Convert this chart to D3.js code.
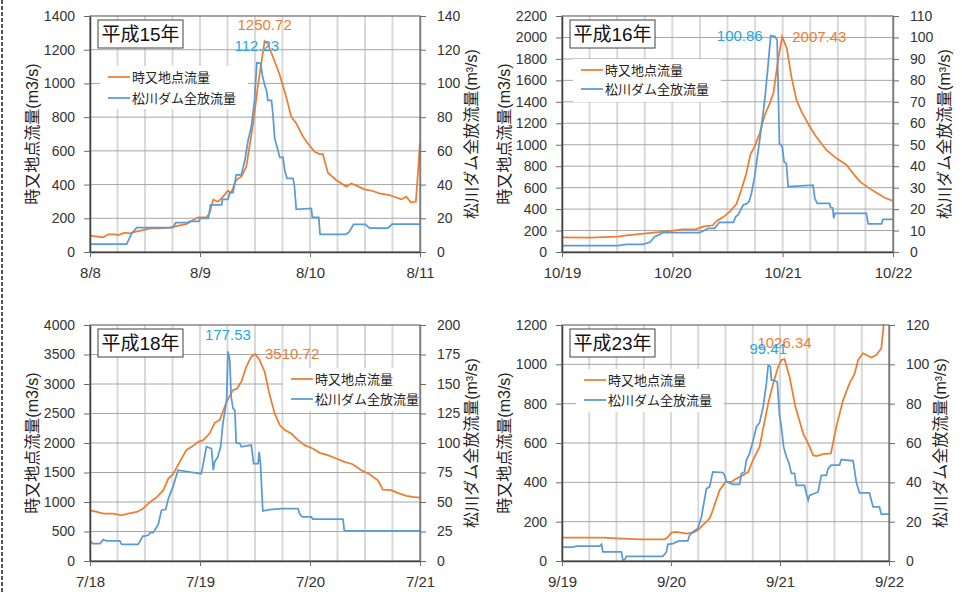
<!DOCTYPE html>
<html>
<head>
<meta charset="utf-8">
<script src="https://cdn.jsdelivr.net/npm/d3@7"></script>
<style>
  body { margin: 0; background: #fff; }
  svg { display: block; font-family: "Liberation Sans", "Noto Sans CJK JP", sans-serif; }
</style>
</head>
<body>
<div id="chart"></div>
<script>
// hours from the first date (0..72), value
// 平成15年
const h15Dates = ["8/8", "8/9", "8/10", "8/11"];
const h15Flow = [[0,97],[2.9,87],[4,105],[5.4,105],[6.2,100],[7.6,115],[8.7,110],[10.2,122],[11.6,130],[13.1,140],[15.2,140],[17.4,145],[19.6,158],[21,165],[22.5,190],[23.6,205],[25.4,205],[26.1,230],[26.9,312],[27.9,298],[28.7,318],[30.1,364],[30.8,352],[31.9,427],[33,447],[34.1,506],[35.6,763],[36.7,1000],[38.1,1250.72],[38.8,1237],[39.9,1158],[41.4,1050],[42.8,921],[43.9,803],[45,763],[46.5,684],[47.5,645],[49,595],[50.1,581],[50.8,581],[51.9,470],[53.7,427],[55.9,388],[57,407],[58.4,391],[59.9,372],[61.7,362],[63.1,348],[65.3,338],[67.9,312],[69,328],[70,295],[71.1,298],[72,645]];
const h15Dam = [[0,4.7],[8,4.7],[9.1,11],[10.2,14.4],[18.1,14.4],[18.7,17.4],[21.4,17.4],[21.6,18.2],[23.8,18.2],[24,20],[25.8,20],[26.3,27.9],[28.7,27.9],[28.9,31.2],[30.1,31.2],[30.5,35.2],[31.2,35.2],[31.9,45.7],[33,45.7],[33.8,54.6],[34.5,66.4],[35.2,74.3],[35.9,90],[36.4,112.23],[37.2,112],[37.6,105],[38.1,99],[38.5,96],[38.8,90],[39.6,90],[39.9,82],[40.3,67.4],[40.8,62.5],[41.4,56.1],[42.1,56.1],[42.5,48.2],[43,43.7],[44.3,43.7],[44.6,39.1],[45,25.3],[48.3,25.9],[48.5,20.6],[49.9,20.6],[50.2,10.5],[55.9,10.5],[56.6,12],[57.5,16.4],[60.1,16.4],[61,14.2],[65,14.2],[65.9,16.6],[72,16.6]];
const h15Peaks = [[38.1,1250.72],[36.4,112.23]];

// 平成16年
const h16Dates = ["10/19", "10/20", "10/21", "10/22"];
const h16Flow = [[0,137],[6,134],[12.2,143],[14,155],[16.2,165],[18.3,174],[20.5,183],[24.1,199],[26.3,211],[29.2,214],[30.7,236],[32.8,249],[33.7,292],[35,323],[36.5,376],[37.9,444],[39,578],[40.1,733],[41,910],[41.9,982],[43,1106],[44.1,1277],[45.2,1386],[46,1485],[47,1790],[47.9,2007.43],[48.9,1898],[49.9,1634],[51,1417],[52.1,1308],[53.9,1168],[55.3,1075],[57.5,951],[59.7,873],[61.9,811],[63.3,733],[64.8,656],[66.9,593],[68.4,553],[70.2,506],[72,475]];
const h16Dam = [[0,3],[12.2,3],[14,3.6],[17.6,3.6],[19.1,4.5],[20.2,7.1],[22,9],[29.9,9],[30.7,9.8],[31.8,11],[33.2,11],[34.2,13.8],[37.3,13.8],[37.8,16.5],[38.3,17.2],[39.4,21.9],[40.1,22.4],[40.7,23.5],[41.2,27.3],[41.9,35.1],[43,52.2],[44.1,70.8],[44.8,86.4],[45.4,100.86],[46.3,100.4],[46.8,98.8],[47,78.6],[47.3,50.6],[47.9,49.1],[48.3,42.1],[48.8,41.3],[49.2,30.5],[54.6,31.2],[55,25],[55.5,22.7],[58.2,22.7],[58.4,20.8],[58.9,20.5],[59.1,15.7],[59.4,18],[66.2,18],[66.6,13.1],[69.5,13.1],[69.8,15.2],[72,15.2]];
const h16Peaks = [[47.9,2007.43],[45.4,100.86]];

// 平成18年
const h18Dates = ["7/18", "7/19", "7/20", "7/21"];
const h18Flow = [[0,860],[1.5,832],[2.9,803],[5.1,803],[6.9,775],[8.3,803],[10.2,832],[11.6,888],[13.1,1001],[14.5,1075],[16,1200],[17.1,1397],[18.1,1471],[19.6,1680],[21,1878],[22.5,1952],[23.6,2020],[24.7,2048],[26.1,2161],[27.2,2342],[28.3,2388],[29.8,2699],[31.2,2897],[32.1,2925],[33,3038],[34.1,3293],[35.2,3463],[36,3510.72],[37,3406],[38.1,3208],[39.2,2812],[40.3,2501],[41.4,2303],[42.5,2218],[43.9,2161],[45.4,2048],[46.8,1963],[48.6,1907],[50.1,1833],[51.9,1794],[53.7,1737],[55.5,1680],[57.3,1641],[59.2,1539],[61,1471],[62.8,1369],[63.9,1211],[65.7,1200],[67.1,1154],[69,1103],[70.4,1086],[72,1075]];
const h18Dam = [[0,17],[0.6,14.7],[2.2,14.7],[2.9,18.1],[3.6,17],[6.5,17],[6.9,14.1],[10.5,14.1],[11.5,20.9],[12.7,21.8],[13.1,24],[13.8,24],[14.2,26.6],[14.9,31.1],[15.6,43],[16.5,43.6],[17.1,52.9],[18.1,62.8],[19.2,77],[24,74.1],[24.3,74.1],[25.4,96.8],[26.5,95.3],[26.9,77],[27.2,84],[27.9,88.3],[28.5,96.8],[29,116.6],[29.8,136.4],[30.1,177.53],[30.5,170.3],[30.8,139.2],[31.2,129.3],[31.6,127.9],[31.9,100.1],[32.7,99.6],[33,96.8],[35.2,98.2],[35.7,82.6],[36.7,82.6],[36.9,92.5],[37.2,82.6],[37.7,42.4],[39.2,43.6],[41.7,44.4],[45.4,44.4],[45.7,40.2],[46.3,37.3],[48.3,37.3],[48.6,35.4],[55.2,35.4],[55.5,25.5],[72,25.5]];
const h18Peaks = [[36,3510.72],[30.1,177.53]];

// 平成23年
const h23Dates = ["9/19", "9/20", "9/21", "9/22"];
const h23Flow = [[0,119],[9,119],[13.4,114],[17.1,110],[22.6,110],[23.3,122],[24.1,144],[25.2,148],[27.4,139],[28.8,144],[29.9,156],[31,182],[32.5,216],[33.2,258],[34.7,360],[36,402],[37.3,402],[38.4,419],[39.9,436],[41,453],[42.1,516],[43.5,580],[44.3,674],[45.4,801],[46.5,903],[47.6,988],[48.3,1022],[49,1026.34],[50.1,937],[51.4,784],[53.1,648],[54.2,597],[55.3,538],[56,533],[57.5,543],[59.2,547],[60.4,682],[61.9,818],[63.3,903],[64.4,950],[65.2,1022],[66.3,1056],[68.1,1035],[69.2,1047],[70.3,1081],[71,1240]];
const h23Dam = [[0,7.1],[2.4,7.1],[3.2,7.6],[8.3,7.6],[8.7,8.5],[9,4.6],[13.1,4.6],[13.4,0.3],[13.8,0.7],[14.2,2.4],[22.2,2.4],[23,4.6],[23.3,8.5],[24.4,8.8],[25.2,9.7],[25.9,10.2],[27.7,10.2],[28.1,13.1],[28.8,14.8],[29.9,16.5],[30.7,22.4],[31.8,36.8],[32.5,37.7],[33.2,45.3],[35.4,45],[35.8,43.6],[36.2,40.2],[36.9,39.7],[37.6,39],[39.1,39],[39.5,44.5],[40.2,45.3],[40.6,51.3],[41.3,54.7],[42.1,61.4],[42.8,68.2],[43.5,70.3],[44.3,78.4],[45,90.3],[45.4,99.41],[45.9,98.8],[46.1,92],[46.5,92],[47.4,91.1],[47.9,74.2],[48.3,68.2],[48.8,58],[49.4,53],[50,49.6],[50.5,44.5],[51.2,44.5],[51.6,38.5],[53.4,38.5],[53.8,34.3],[54.2,30.9],[54.5,33.4],[55.6,34.3],[56.4,35.1],[57.1,43.6],[58.2,43.6],[58.6,47],[59.3,48.7],[61.1,48.7],[61.5,51.6],[64.1,50.9],[64.8,40.2],[65.5,34.6],[67.7,34.6],[68.1,30.9],[68.5,27.5],[69.9,27.5],[70.3,23.8],[72,23.8]];
const h23Peaks = [[49,1026.34],[45.4,99.41]];

const seriesNames = ["時又地点流量", "松川ダム全放流量"];
const leftTitle = "時又地点流量(m3/s)";
const rightTitle = "松川ダム全放流量(m³/s)";

const W = 962, H = 592;
const orange = "#ED7D31", blue = "#5B9BD5", blueLabel = "#1FA8E2";

const svg = d3.select("#chart").append("svg")
  .attr("width", W)
  .attr("height", H);

// dashed edge on the left
svg.append("line")
  .attr("x1", 2).attr("x2", 2).attr("y1", 0).attr("y2", H)
  .attr("stroke", "#555").attr("stroke-width", 2).attr("stroke-dasharray", "4,2");

const panels = [
  { title: "平成15年", dates: h15Dates, flow: h15Flow, dam: h15Dam, peaks: h15Peaks,
    leftMax: 1400, leftStep: 200, rightMax: 140, rightStep: 20,
    box: { left: 90, top: 16, right: 420, bottom: 252 },
    legend: { x: 18, y: 61, dy: 21 }, peakPos: ["above", "above"] },
  { title: "平成16年", dates: h16Dates, flow: h16Flow, dam: h16Dam, peaks: h16Peaks,
    leftMax: 2200, leftStep: 200, rightMax: 110, rightStep: 10,
    box: { left: 562, top: 16, right: 893, bottom: 252 },
    legend: { x: 19, y: 54, dy: 19 }, peakPos: ["right", "left"] },
  { title: "平成18年", dates: h18Dates, flow: h18Flow, dam: h18Dam, peaks: h18Peaks,
    leftMax: 4000, leftStep: 500, rightMax: 200, rightStep: 25,
    box: { left: 90, top: 325, right: 420, bottom: 561 },
    legend: { x: 201, y: 54, dy: 20 }, peakPos: ["right", "above"] },
  { title: "平成23年", dates: h23Dates, flow: h23Flow, dam: h23Dam, peaks: h23Peaks,
    leftMax: 1200, leftStep: 200, rightMax: 120, rightStep: 20,
    box: { left: 562, top: 325, right: 889, bottom: 561 },
    legend: { x: 22, y: 55, dy: 20 }, peakPos: ["above", "above"] }
];

panels.forEach((p, i) => {
  const b = p.box;
  const g = svg.append("g");

  const x = d3.scaleLinear().domain([0, 72]).range([b.left, b.right]);
  const yL = d3.scaleLinear().domain([0, p.leftMax]).range([b.bottom, b.top]);
  const yR = d3.scaleLinear().domain([0, p.rightMax]).range([b.bottom, b.top]);
  const leftTicks = d3.range(0, p.leftMax + 1, p.leftStep);
  const rightTicks = d3.range(0, p.rightMax + 1, p.rightStep);

  // grid: every 6 hours, every left tick
  g.selectAll(".vgrid")
    .data(d3.range(6, 72, 6))
    .enter().append("line")
    .attr("x1", d => x(d)).attr("x2", d => x(d))
    .attr("y1", b.top).attr("y2", b.bottom)
    .attr("stroke", "#d9d9d9").attr("stroke-width", 2);
  g.selectAll(".hgrid")
    .data(leftTicks.slice(1, -1))
    .enter().append("line")
    .attr("x1", b.left).attr("x2", b.right)
    .attr("y1", d => yL(d)).attr("y2", d => yL(d))
    .attr("stroke", "#a6a6a6").attr("stroke-width", 1);

  // legend background hides the grid
  g.append("rect")
    .attr("x", b.left + p.legend.x - 8)
    .attr("y", b.top + p.legend.y - 11)
    .attr("width", 148)
    .attr("height", 43)
    .attr("fill", "#fff");

  svg.append("clipPath").attr("id", "clip" + i)
    .append("rect")
    .attr("x", b.left).attr("y", b.top)
    .attr("width", b.right - b.left).attr("height", b.bottom - b.top);

  const lineL = d3.line().x(d => x(d[0])).y(d => yL(d[1]));
  const lineR = d3.line().x(d => x(d[0])).y(d => yR(d[1]));

  g.append("path")
    .datum(p.flow)
    .attr("clip-path", `url(#clip${i})`)
    .attr("fill", "none")
    .attr("stroke", orange)
    .attr("stroke-width", 1.75)
    .attr("d", lineL);
  g.append("path")
    .datum(p.dam)
    .attr("clip-path", `url(#clip${i})`)
    .attr("fill", "none")
    .attr("stroke", blue)
    .attr("stroke-width", 1.75)
    .attr("d", lineR);

  // plot frame
  g.append("rect")
    .attr("x", b.left).attr("y", b.top)
    .attr("width", b.right - b.left).attr("height", b.bottom - b.top)
    .attr("fill", "none").attr("stroke", "#6b6b6b").attr("stroke-width", 1.2);

  // axes
  const styleAxis = (a, size, col) => {
    a.selectAll(".tick line").attr("stroke", "#6b6b6b");
    a.selectAll(".tick text").attr("fill", "#333").style("font-size", size + "px");
    a.select(".domain").attr("stroke", col).attr("stroke-width", 1.5);
  };

  g.append("g")
    .attr("transform", `translate(${b.left},0)`)
    .call(d3.axisLeft(yL).tickValues(leftTicks).tickFormat(d3.format("d"))
      .tickSize(6).tickSizeOuter(0).tickPadding(9))
    .call(a => styleAxis(a, 14, "#404040"));

  g.append("g")
    .attr("transform", `translate(${b.right},0)`)
    .call(d3.axisRight(yR).tickValues(rightTicks).tickFormat(d3.format("d"))
      .tickSize(6).tickSizeOuter(0).tickPadding(11))
    .call(a => styleAxis(a, 14, "#7f7f7f"));

  g.append("g")
    .attr("transform", `translate(0,${b.bottom})`)
    .call(d3.axisBottom(x).tickValues([0, 24, 48, 72]).tickFormat((d, k) => p.dates[k])
      .tickSize(5).tickSizeOuter(0).tickPadding(10))
    .call(a => styleAxis(a, 15, "#404040"));

  // axis titles, both read bottom to top
  const midY = (b.top + b.bottom) / 2;
  g.append("text")
    .attr("transform", `translate(${b.left - 57.5},${midY}) rotate(-90)`)
    .attr("text-anchor", "middle")
    .attr("dominant-baseline", "central")
    .attr("fill", "#222")
    .style("font-size", "16px")
    .text(leftTitle);
  g.append("text")
    .attr("transform", `translate(${b.right + 51},${midY}) rotate(-90)`)
    .attr("text-anchor", "middle")
    .attr("dominant-baseline", "central")
    .attr("fill", "#222")
    .style("font-size", "16px")
    .text(rightTitle);

  // legend
  [orange, blue].forEach((c, k) => {
    const ly = b.top + p.legend.y + k * p.legend.dy;
    g.append("line")
      .attr("x1", b.left + p.legend.x).attr("x2", b.left + p.legend.x + 22)
      .attr("y1", ly).attr("y2", ly)
      .attr("stroke", c).attr("stroke-width", 1.75);
    g.append("text")
      .attr("x", b.left + p.legend.x + 24)
      .attr("y", ly)
      .attr("dominant-baseline", "central")
      .attr("fill", "#222")
      .style("font-size", "13px")
      .text(seriesNames[k]);
  });

  // year box
  g.append("rect")
    .attr("x", b.left + 8).attr("y", b.top + 4)
    .attr("width", 85).attr("height", 28)
    .attr("fill", "#fff").attr("stroke", "#404040").attr("stroke-width", 1);
  g.append("text")
    .attr("x", b.left + 8 + 42.5).attr("y", b.top + 18)
    .attr("text-anchor", "middle")
    .attr("dominant-baseline", "central")
    .attr("fill", "#111")
    .style("font-size", "19px")
    .text(p.title);

  // peak labels
  p.peaks.forEach((pk, k) => {
    const px = x(pk[0]);
    const py = k === 0 ? yL(pk[1]) : yR(pk[1]);
    const pos = p.peakPos[k];
    g.append("text")
      .attr("x", pos === "above" ? px : pos === "left" ? px - 8 : px + 10)
      .attr("y", pos === "above" ? py - 17 : py)
      .attr("text-anchor", pos === "above" ? "middle" : pos === "left" ? "end" : "start")
      .attr("dominant-baseline", "central")
      .attr("fill", k === 0 ? orange : blueLabel)
      .style("font-size", "15px")
      .text(pk[1].toFixed(2));
  });
});
</script>
</body>
</html>
